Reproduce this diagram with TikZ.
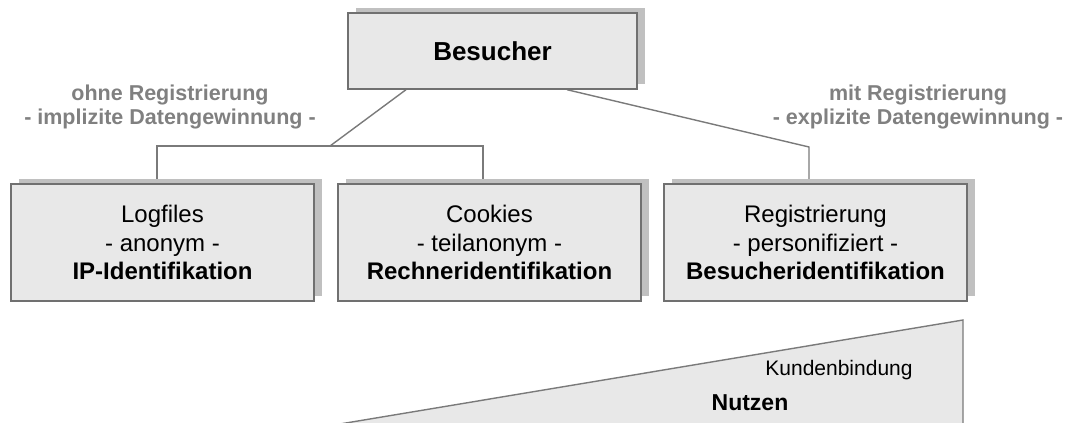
\documentclass[tikz,border=0pt]{standalone}
\usepackage{fontspec}
\setmainfont{Liberation Sans}
\usetikzlibrary{shadows,backgrounds,calc}
\definecolor{boxfill}{HTML}{E8E8E8}
\definecolor{boxline}{HTML}{707070}
\definecolor{shade}{HTML}{C0C0C0}
\definecolor{labelgray}{HTML}{808080}
\definecolor{linkgray}{HTML}{7A7A7A}

\begin{document}
\begin{tikzpicture}[x=1pt,y=-1pt,
  card/.style={rectangle, draw=boxline, line width=1.4pt, fill=boxfill,
    inner sep=0pt, align=center,
    drop shadow={shadow xshift=7.5pt, shadow yshift=5pt, fill=shade, opacity=1}},
  method/.style={card, minimum width=303pt, minimum height=117pt,
    font=\fontsize{24}{28.5}\selectfont},
  link/.style={draw=linkgray, line width=1.4pt},
  side/.style={align=center, text=labelgray, inner sep=0pt,
    font=\fontsize{21.5}{23.5}\selectfont\bfseries},
  plain/.style={inner sep=0pt}]

\useasboundingbox (0,0) rectangle (1072,423);

% top node and the three identification methods
\node[card, minimum width=289pt, minimum height=76pt,
      font=\fontsize{26}{30}\selectfont\bfseries] (bes) at (492.5,51) {Besucher};
\node[method] (log) at (162.5,242.5) {Logfiles\\- anonym -\\\textbf{IP-Identifikation}};
\node[method] (coo) at (489.5,242.5) {Cookies\\- teilanonym -\\\textbf{Rechneridentifikation}};
\node[method] (reg) at (815.5,242.5) {Registrierung\\- personifiziert -\\\textbf{Besucheridentifikation}};

% branch points of the connectors
\coordinate (bsl) at (406,0);
\coordinate (bsr) at (567,0);
\coordinate (jl) at (330,146);
\coordinate (bl) at (157,146);
\coordinate (br) at (483,146);
\coordinate (jr) at (809,147);

\begin{scope}[on background layer]
  \draw[link] (bes.south -| bsl) -- (jl);
  \draw[link] (log.north -| bl) -- (bl) -- (br) -- (coo.north -| br);
  \draw[link] (bes.south -| bsr) -- (jr) -- (reg.north -| jr);
\end{scope}

% branch labels
\node[side] (lblL) at (170,107) {ohne Registrierung\\- implizite Datengewinnung -};
\node[side] (lblR) at (918,107) {mit Registrierung\\- explizite Datengewinnung -};

% rising wedge at the bottom
\coordinate (wtip) at (304,430);
\coordinate (wtop) at (963,320);
\coordinate (wbase) at (963,430);
\begin{scope}
  \clip (0,0) rectangle (1072,423);
  \fill[boxfill] (wtip) -- (wtop) -- (wbase) -- cycle;
  \draw[link, line join=miter] (wtip) -- (wtop) -- (wbase);
\end{scope}
\node[plain, font=\fontsize{21}{24}\selectfont] (kb) at (839,370) {Kundenbindung};
\node[plain, font=\fontsize{23}{26}\selectfont\bfseries] (nu) at (750,403) {Nutzen};
\end{tikzpicture}
\end{document}
